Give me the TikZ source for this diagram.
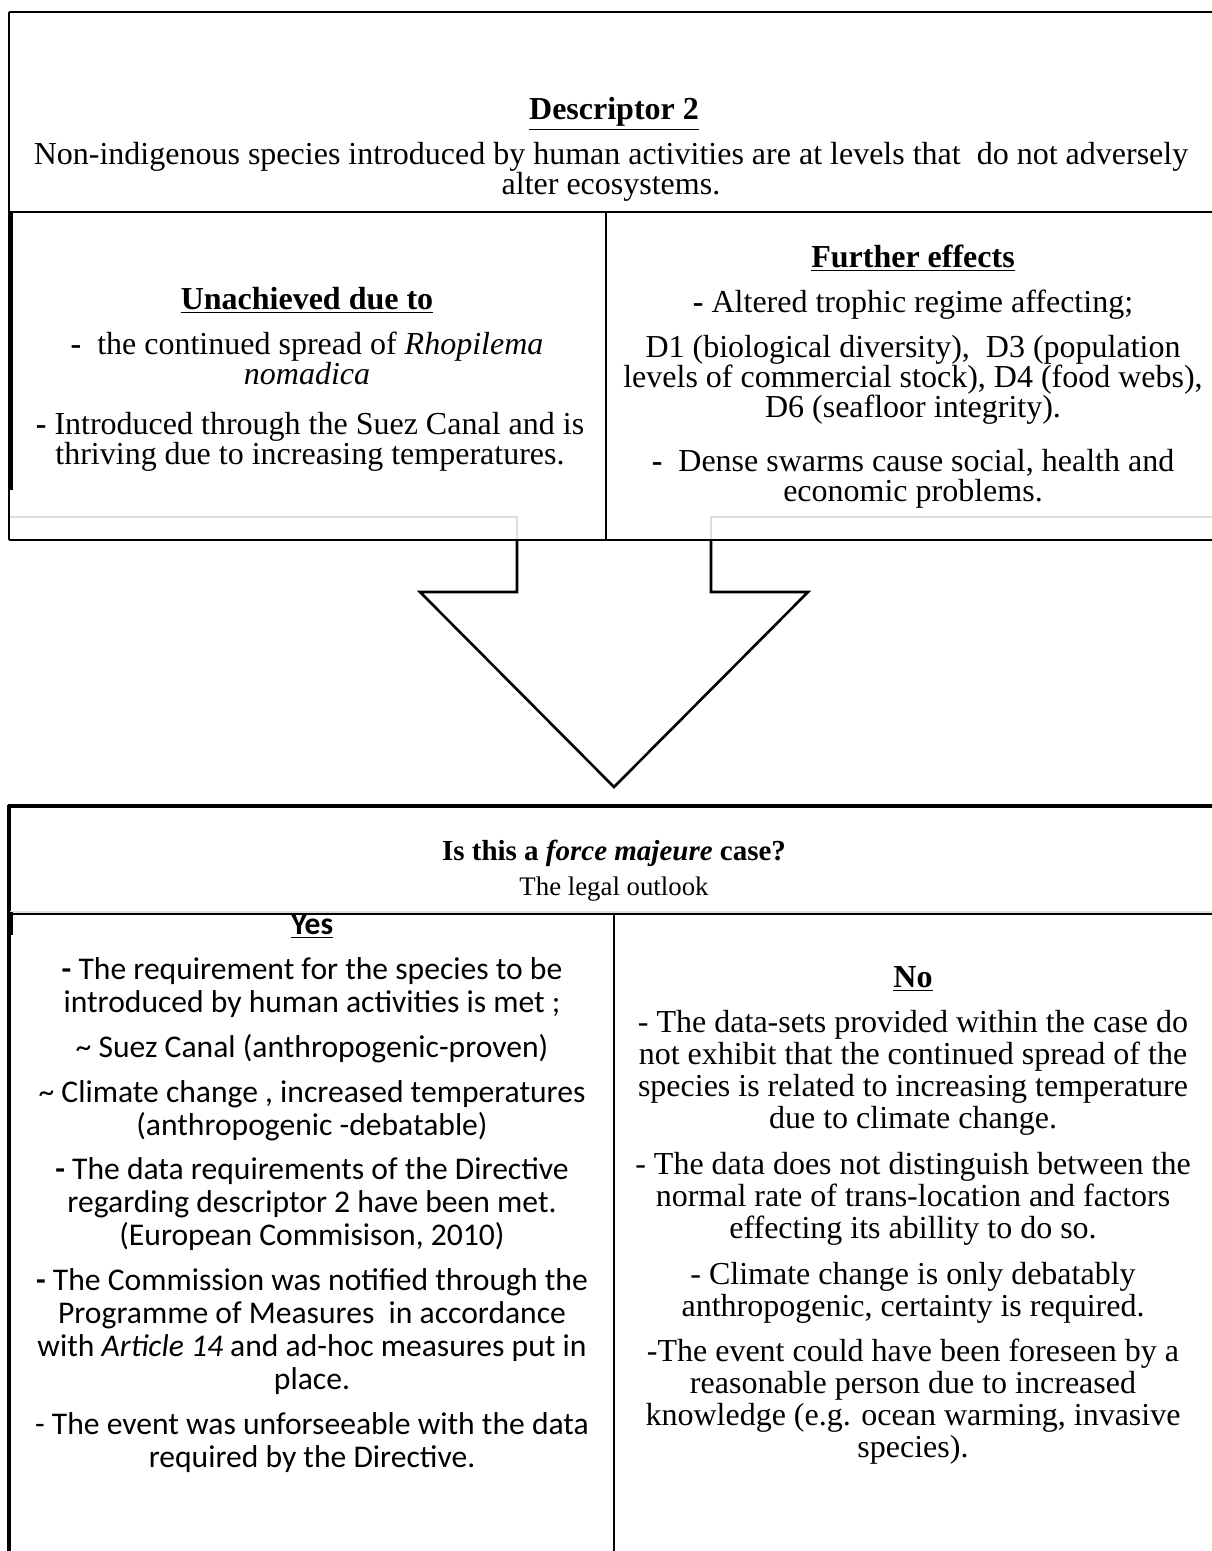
\documentclass[tikz,border=0pt]{standalone}
\usepackage{fontspec}
\setmainfont{Liberation Serif}
\newfontfamily\calibfont{Carlito}
% fixed first-line height so every paragraph top sits 14pt above its first baseline
\newcommand\st{\rule{0pt}{14pt}}
\newcommand\ftop{\fontsize{16}{15}\selectfont\lineskiplimit=-20pt}
\newcommand\fhead{\fontsize{14.5}{14}\selectfont\lineskiplimit=-20pt}
\newcommand\fsub{\fontsize{13.4}{14}\selectfont\lineskiplimit=-20pt}
\newcommand\fno{\fontsize{16}{16}\selectfont\lineskiplimit=-20pt}
\newcommand\fyes{\calibfont\fontsize{15.8}{16.5}\selectfont\lineskiplimit=-20pt}
\tikzset{
  frame/.style={line width=1.4pt, black},
  heavy/.style={line width=2pt, black},
  faint/.style={line width=1pt, black!13},
  ptop/.style={inner sep=0pt, anchor=north, align=center, font=\ftop},
  pno/.style={inner sep=0pt, anchor=north, align=center, font=\fno},
  pyes/.style={inner sep=0pt, anchor=north, align=center, font=\fyes},
  phead/.style={inner sep=0pt, anchor=north, align=center, font=\fhead},
  psub/.style={inner sep=0pt, anchor=north, align=center, font=\fsub},
}
\begin{document}
\begin{tikzpicture}[x=0.5pt, y=-0.5pt]
\useasboundingbox (0,0) rectangle (1211,1551);

% ---------- upper box: descriptor and its two cells ----------
\draw[frame] (9,12) -- (1216,12);
\draw[frame] (9,12) -- (9,540);
\draw[line width=2.2pt] (11,212) -- (11,490);
\draw[frame] (9,212) -- (1216,212);
\draw[frame] (606,212) -- (606,540);
\draw[faint] (10,517) -- (517,517) -- (517,540);
\draw[faint] (711,540) -- (711,517) -- (1216,517);
\draw[frame] (9,540) -- (1216,540);

% ---------- block arrow ----------
\coordinate (sl) at (517,540);
\coordinate (sr) at (711,540);
\coordinate (hl) at (420,592);
\coordinate (hr) at (808,592);
\coordinate (tip) at (614,787);
\draw[line width=1.3pt, line join=miter] (sl) -- (517,592) -- (hl) -- (tip) -- (hr) -- (711,592) -- (sr);

% ---------- lower box: legal outlook ----------
\draw[heavy] (8,806) -- (1216,806);
\draw[heavy] (9,805) -- (9,1556);
\draw[faint] (10,912) -- (1216,912);
\draw[frame] (9,914) -- (1216,914);
\draw[line width=2.2pt] (11,912) -- (11,935);
\draw[frame] (614,914) -- (614,1556);

% ---------- upper box texts ----------
\node[ptop] (d2) at (614,91) {\st\textbf{\underline{Descriptor 2}}};
\node[ptop] (d2txt) at (611,136) {\st Non-indigenous species introduced by human activities are at levels that\ \ do not adversely\\ alter ecosystems.};

\node[ptop] (unach) at (307,281) {\st\textbf{\underline{Unachieved due to}}};
\node[ptop] (spread) at (307,326) {\st\textbf{-}\ \ the continued spread of \textit{Rhopilema}\\ \textit{nomadica}};
\node[ptop] (suez) at (310,406) {\st\textbf{-} Introduced through the Suez Canal and is\\ thriving due to increasing temperatures.};

\node[ptop] (further) at (913,239) {\st\textbf{\underline{Further effects}}};
\node[ptop] (trophic) at (913,284) {\st\textbf{-} Altered trophic regime affecting;};
\node[ptop] (dlist) at (913,329) {\st D1 (biological diversity),\ \ D3 (population\\ levels of commercial stock), D4 (food webs),\\ D6 (seafloor integrity).};
\node[ptop] (swarms) at (913,443) {\st\textbf{-}\ \ Dense swarms cause social, health and\\ economic problems.};

% ---------- lower box texts ----------
\node[phead] (fm) at (614,832) {\st\textbf{Is this a \textit{force majeure} case?}};
\node[psub] (outlook) at (614,867) {\st The legal outlook};

\node[pyes] (yes) at (312,906) {\st\textbf{\underline{Yes}}};
\node[pyes] (y1) at (312,951) {\st\textbf{-} The requirement for the species to be\\ introduced by human activities is met ;};
\node[pyes] (y2) at (312,1029) {\st\textasciitilde{} Suez Canal (anthropogenic-proven)};
\node[pyes] (y3) at (312,1074) {\st\textasciitilde{} Climate change , increased temperatures\\ (anthropogenic -debatable)};
\node[pyes] (y4) at (312,1151) {\st\textbf{-} The data requirements of the Directive\\ regarding descriptor 2 have been met.\\ (European Commisison, 2010)};
\node[pyes] (y5) at (312,1262) {\st\textbf{-} The Commission was notified through the\\ Programme of Measures\ \ in accordance\\ with \textit{Article 14} and ad-hoc measures put in\\ place.};
\node[pyes] (y6) at (312,1406) {\st - The event was unforseeable with the data\\ required by the Directive.};

\node[pno] (no) at (913,959) {\st\textbf{\underline{No}}};
\node[pno] (n1) at (913,1004) {\st - The data-sets provided within the case do\\ not exhibit that the continued spread of the\\ species is related to increasing temperature\\ due to climate change.};
\node[pno] (n2) at (913,1146) {\st - The data does not distinguish between the\\ normal rate of trans-location and factors\\ effecting its abillity to do so.};
\node[pno] (n3) at (913,1256) {\st - Climate change is only debatably\\ anthropogenic, certainty is required.};
\node[pno] (n4) at (913,1333) {\st -The event could have been foreseen by a\\ reasonable person due to increased\\ knowledge (e.g. ocean warming, invasive\\ species).};
\end{tikzpicture}
\end{document}
